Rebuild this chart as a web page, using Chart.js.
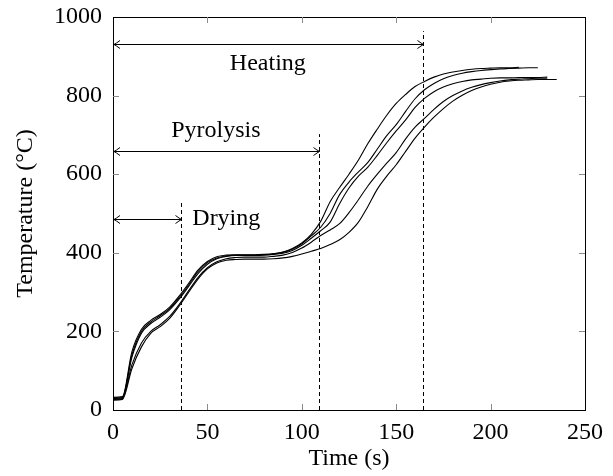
<!DOCTYPE html>
<html>
<head>
<meta charset="utf-8">
<script src="https://cdn.jsdelivr.net/npm/chart.js@4/dist/chart.umd.min.js"></script>
<style>
html,body{margin:0;padding:0;background:#fff;}
canvas{display:block;}
</style>
</head>
<body>
<canvas id="c" width="613" height="476"></canvas>
<script>
// ---- data ----
const time = [0,5,10,15,20,25,30,35,40,45,50,55,60,65,70,75,80,85,90,95,100,105,110,115,120,125,130,135,140,145,150,155,160,165,170,175,180,185,190,195,200,205,210,215,220,225,230,235];
const run1 = [32,34,148,205,228,243,262,290,322,356,378,390,394,395,395,395,396,398,402,411,425,447,480,530,566,600,636,678,715,750,780,803,823,836,847,855,860,864,867,869,870,871,871,872];
const run2 = [30,32,140,200,224,240,258,286,318,352,375,387,392,394,394,394,395,397,401,409,423,443,465,500,548,580,606,630,664,698,726,760,792,815,831,843,851,857,861,864,866,868,869,870,871,871];
const run3 = [29,31,134,195,220,236,255,282,314,347,371,385,391,393,393,393,394,396,399,406,419,437,456,478,525,565,595,618,648,680,710,738,770,793,810,822,830,836,840,842,844,845,845,846,846,846,847];
const run4 = [27,29,115,170,200,217,238,268,303,337,362,377,385,388,389,389,389,391,394,401,412,427,444,458,474,502,535,570,600,628,655,690,720,742,765,785,800,812,821,828,833,837,840,842,843,844,844];
const run5 = [25,27,105,160,195,212,233,264,299,333,359,374,381,383,384,384,384,385,387,391,397,404,411,421,433,452,478,518,562,595,624,658,692,720,745,767,786,801,813,822,829,834,837,839,840,841,841,841];
const runs = [run1, run2, run3, run4, run5];

// phases: name, end time (s), arrow level (°C), dashed line top (°C)
const phaseNames = ['Drying', 'Pyrolysis', 'Heating'];
const phaseEnd = [36, 109, 164];
const phaseArrowAt = [486, 659, 931];
const phaseLineTop = [527, 702, 964];
// label anchors (data units) and alignment
const phaseLabelX = [42, 54.5, 82];
const phaseLabelY = [486, 710, 882];
const phaseLabelAlign = ['left', 'center', 'center'];

const xTicks = [0, 50, 100, 150, 200, 250];
const yTicks = [0, 200, 400, 600, 800, 1000];

const FONT = 'Liberation Serif';
const FS = 24;

const datasets = runs.map(r => ({
  data: r.map((v, i) => ({x: time[i], y: v})),
  borderColor: '#000',
  borderWidth: 1.1,
  pointRadius: 0,
  fill: false,
  cubicInterpolationMode: 'monotone'
}));

const decor = {
  id: 'decor',
  afterDatasetsDraw(chart) {
    const ctx = chart.ctx, xs = chart.scales.x, ys = chart.scales.y, a = chart.chartArea;
    ctx.save();
    // frame
    ctx.strokeStyle = '#000'; ctx.lineWidth = 1;
    ctx.strokeRect(Math.round(a.left) + 0.5, Math.round(a.top) + 0.5, Math.round(a.right - a.left), Math.round(a.bottom - a.top));
    // inward ticks on all four sides
    ctx.strokeStyle = '#8a8a8a'; ctx.lineWidth = 1;
    const L = 6;
    xTicks.forEach(t => {
      const px = Math.round(xs.getPixelForValue(t)) + 0.5;
      if (t === 0 || t === 250) return;
      ctx.beginPath(); ctx.moveTo(px, a.bottom); ctx.lineTo(px, a.bottom - L); ctx.stroke();
      ctx.beginPath(); ctx.moveTo(px, a.top); ctx.lineTo(px, a.top + L); ctx.stroke();
    });
    yTicks.forEach(t => {
      const py = Math.round(ys.getPixelForValue(t)) + 0.5;
      if (t === 0 || t === 1000) return;
      ctx.beginPath(); ctx.moveTo(a.left, py); ctx.lineTo(a.left + L, py); ctx.stroke();
      ctx.beginPath(); ctx.moveTo(a.right, py); ctx.lineTo(a.right - L, py); ctx.stroke();
    });
    // phase dashed lines, arrows and labels
    ctx.strokeStyle = '#000'; ctx.fillStyle = '#000'; ctx.lineWidth = 1;
    phaseNames.forEach((name, i) => {
      const xe = Math.round(xs.getPixelForValue(phaseEnd[i])) + 0.5;
      const x0 = xs.getPixelForValue(0);
      const yTop = ys.getPixelForValue(phaseLineTop[i]);
      ctx.setLineDash([4, 3]);
      ctx.beginPath(); ctx.moveTo(xe, a.bottom); ctx.lineTo(xe, yTop); ctx.stroke();
      ctx.setLineDash([]);
      const ya = Math.round(ys.getPixelForValue(phaseArrowAt[i])) + 0.5;
      ctx.beginPath(); ctx.moveTo(x0 + 1, ya); ctx.lineTo(xe, ya); ctx.stroke();
      // arrow heads
      const h = 6, w = 4;
      ctx.beginPath();
      ctx.moveTo(x0 + 1 + h, ya - w); ctx.quadraticCurveTo(x0 + 3, ya - 1, x0 + 1, ya); ctx.quadraticCurveTo(x0 + 3, ya + 1, x0 + 1 + h, ya + w);
      ctx.moveTo(xe - h, ya - w); ctx.quadraticCurveTo(xe - 2, ya - 1, xe, ya); ctx.quadraticCurveTo(xe - 2, ya + 1, xe - h, ya + w);
      ctx.stroke();
      ctx.font = FS + 'px "' + FONT + '"';
      ctx.textAlign = phaseLabelAlign[i];
      ctx.textBaseline = 'middle';
      ctx.fillText(name, xs.getPixelForValue(phaseLabelX[i]), ys.getPixelForValue(phaseLabelY[i]));
    });
    ctx.restore();
  }
};

new Chart(document.getElementById('c'), {
  type: 'line',
  data: { datasets },
  options: {
    responsive: false,
    animation: false,
    devicePixelRatio: 1,
    layout: { padding: { top: 17, right: 28, left: 0, bottom: 0 } },
    plugins: { legend: { display: false }, tooltip: { enabled: false } },
    scales: {
      x: {
        type: 'linear', min: 0, max: 250,
        afterBuildTicks: s => { s.ticks = xTicks.map(v => ({value: v})); },
        afterFit: s => { s.height = 66; s.paddingLeft = 0; s.paddingRight = 0; },
        grid: { display: true, drawOnChartArea: false, drawTicks: false },
        border: { display: true, color: '#000', width: 1 },
        ticks: { color: '#000', padding: 8, maxRotation: 0, callback: v => String(v), font: { family: FONT, size: FS } },
        title: { display: true, text: 'Time (s)', color: '#000', padding: { top: 0, bottom: 3 }, font: { family: FONT, size: FS } }
      },
      y: {
        type: 'linear', min: 0, max: 1000,
        afterBuildTicks: s => { s.ticks = yTicks.map(v => ({value: v})); },
        afterFit: s => { s.width = 113; s.paddingTop = 0; s.paddingBottom = 0; },
        grid: { display: true, drawOnChartArea: false, drawTicks: false },
        border: { display: true, color: '#000', width: 1 },
        ticks: { color: '#000', padding: 11, callback: v => String(v), font: { family: FONT, size: FS } },
        title: { display: true, text: 'Temperature (°C)', color: '#000', padding: { top: 11, bottom: 0 }, font: { family: FONT, size: FS } }
      }
    }
  },
  plugins: [decor]
});
</script>
</body>
</html>
